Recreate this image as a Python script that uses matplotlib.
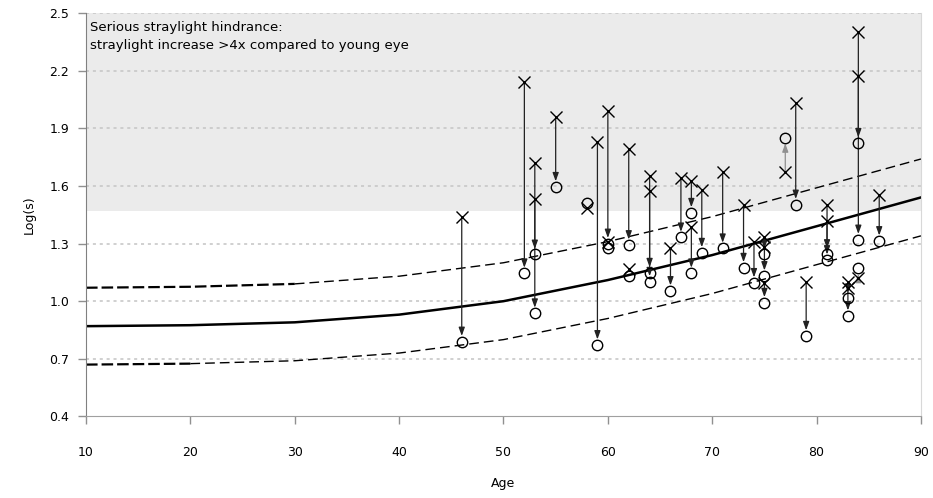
# straylight vs age, before (x) and after (o) cataract surgery

import numpy as np
import matplotlib
matplotlib.use('Agg')
import matplotlib.pyplot as plt

# age norm curve with +-0.2 band
curve_age = [10, 20, 30, 40, 50, 60, 70, 80, 90]
curve_mean = [0.87, 0.875, 0.89, 0.93, 1.00, 1.11, 1.24, 1.39, 1.54]
curve_upper = [1.07, 1.075, 1.09, 1.13, 1.20, 1.31, 1.44, 1.59, 1.74]
curve_lower = [0.67, 0.675, 0.69, 0.73, 0.80, 0.91, 1.04, 1.19, 1.34]

# eyes where straylight went down
down_age = [46, 52, 53, 53, 55, 59, 60, 60, 62, 62, 64, 64, 66, 67, 68, 68,
            69, 71, 73, 74, 75, 75, 75, 78, 79, 81, 81, 83, 83, 84, 84, 86]
down_before = [1.44, 2.14, 1.72, 1.53, 1.96, 1.83, 1.99, 1.31, 1.79, 1.166,
               1.65, 1.574, 1.275, 1.64, 1.625, 1.387, 1.58, 1.673, 1.50,
               1.31, 1.335, 1.283, 1.093, 2.03, 1.098, 1.50, 1.417, 1.10,
               1.067, 2.40, 2.171, 1.552]
down_after = [0.79, 1.145, 1.243, 0.937, 1.595, 0.772, 1.30, 1.275, 1.292,
              1.132, 1.148, 1.101, 1.053, 1.332, 1.46, 1.145, 1.252, 1.275,
              1.174, 1.095, 1.245, 1.131, 0.992, 1.503, 0.82, 1.245, 1.214,
              1.015, 0.923, 1.321, 1.824, 1.313]

# eyes where straylight went up
up_age = [58, 77, 84]
up_before = [1.483, 1.67, 1.119]
up_after = [1.509, 1.85, 1.171]

hindrance_level = 1.47


def draw_arrows(ax, ages, before, after, color):
    for a, b, c in zip(ages, before, after):
        if abs(b - c) < 0.04:
            continue
        ax.annotate('', xy=(a, c), xytext=(a, b),
                    arrowprops=dict(arrowstyle='-|>,head_length=0.5,head_width=0.18',
                                    color=color, lw=0.9, mutation_scale=10,
                                    shrinkA=0, shrinkB=4),
                    zorder=3)


def plot_chart():
    fig = plt.figure(figsize=(9.33, 4.98), dpi=100)
    ax = fig.add_axes([0.0922, 0.1637, 0.8949, 0.8103])

    ax.axhspan(hindrance_level, 2.5, color='#ebebeb', zorder=0, lw=0)
    for yv in [0.7, 1.0, 1.3, 1.6, 1.9, 2.2, 2.5]:
        ax.axhline(yv, color='#c4c4c4', lw=1.1, linestyle=(0, (2, 2.5)), zorder=1)

    ax.plot(curve_age, curve_mean, color='black', lw=1.8, zorder=2)
    # first decades drawn bolder, like the original
    ax.plot(curve_age[:3], curve_upper[:3], color='black', lw=1.6,
            dashes=(5.2, 1.8), zorder=2)
    ax.plot(curve_age[2:], curve_upper[2:], color='black', lw=1.0,
            dashes=(7, 3.6), zorder=2)
    ax.plot(curve_age[:2], curve_lower[:2], color='black', lw=1.6,
            dashes=(5.2, 1.8), zorder=2)
    ax.plot(curve_age[1:], curve_lower[1:], color='black', lw=1.0,
            dashes=(7, 3.6), zorder=2)

    draw_arrows(ax, down_age, down_before, down_after, '#222222')
    draw_arrows(ax, up_age, up_before, up_after, '#909090')

    all_age = down_age + up_age
    ax.plot(all_age, down_before + up_before, linestyle='none', marker='x',
            ms=8, mew=1.0, color='black', zorder=4)
    ax.plot(all_age, down_after + up_after, linestyle='none', marker='o',
            ms=7.5, mew=1.0, mfc='none', mec='black', zorder=4)

    ax.text(10.4, 2.46, 'Serious straylight hindrance:\nstraylight increase >4x compared to young eye',
            fontsize=9.5, va='top', ha='left', linespacing=1.55, zorder=5)

    ax.set_xlim(10, 90)
    ax.set_ylim(0.4, 2.5)
    ax.set_xticks(range(10, 91, 10))
    ax.set_yticks(np.arange(0.4, 2.51, 0.3))
    ax.set_yticklabels(['%.1f' % v for v in np.arange(0.4, 2.51, 0.3)])
    ax.tick_params(axis='x', length=6, width=1, color='#909090', pad=15, labelsize=9)
    ax.tick_params(axis='y', length=6, width=1, color='#909090', pad=6, labelsize=9)

    ax.spines['top'].set_visible(False)
    ax.spines['right'].set_color('#d8d8d8')
    ax.spines['left'].set_color('#808080')
    ax.spines['bottom'].set_color('#a0a0a0')

    ax.set_xlabel('Age', fontsize=9, labelpad=13)
    ax.set_ylabel('Log(s)', fontsize=9, labelpad=10)

    fig.savefig('out.png', dpi=100)


def main():
    plot_chart()


if __name__ == '__main__':
    main()
